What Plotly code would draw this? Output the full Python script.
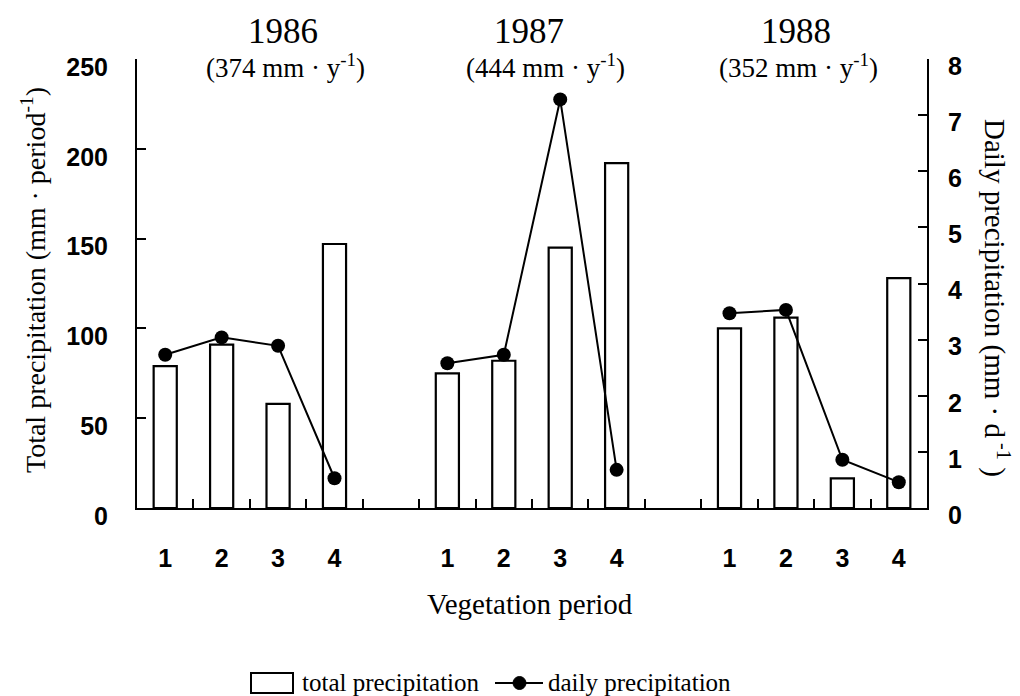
import plotly.graph_objects as go

# ---------------- data ----------------
years = ["1986", "1987", "1988"]
annual_mm = ["374", "444", "352"]
periods = ["1", "2", "3", "4"]

total_1986 = [79, 91, 58, 147]
total_1987 = [75, 82, 145, 192]
total_1988 = [100, 106, 16.5, 128]

daily_1986 = [2.73, 3.04, 2.89, 0.53]
daily_1987 = [2.58, 2.73, 7.28, 0.68]
daily_1988 = [3.47, 3.53, 0.86, 0.46]

totals = [total_1986, total_1987, total_1988]
dailies = [daily_1986, daily_1987, daily_1988]

# slot layout: 4 periods per year + one empty slot between years
GROUP_STEP = len(periods) + 1
bar_x, bar_y, line_x, line_y = [], [], [], []
for g, (tot, dly) in enumerate(zip(totals, dailies)):
    xs = [g * GROUP_STEP + i for i in range(len(periods))]
    bar_x += xs
    bar_y += tot
    line_x += xs + [None]
    line_y += dly + [None]
n_slots = GROUP_STEP * len(years) - 1

# ---------------- geometry helpers ----------------
W, H = 1020, 696
L, R, T, B = 137, 93, 59, 188
PW, PH = W - L - R, H - T - B


def px(xp):
    return (xp - L) / PW


def py(yp):
    return (H - B - yp) / PH


SERIF = "Liberation Serif"
SANS = "Liberation Sans"

fig = go.Figure()
fig.add_trace(go.Bar(
    x=bar_x, y=bar_y, width=0.41,
    marker=dict(color="white", line=dict(color="black", width=2.2)),
    name="total precipitation", showlegend=False,
))
fig.add_trace(go.Scatter(
    x=line_x, y=line_y, yaxis="y2", mode="lines+markers",
    line=dict(color="black", width=2),
    marker=dict(color="black", size=14),
    connectgaps=False, name="daily precipitation", showlegend=False,
))

tickfont = dict(family=SANS, size=25, color="black", weight="bold")

fig.update_layout(
    width=W, height=H,
    margin=dict(l=L, r=R, t=T, b=B),
    paper_bgcolor="white", plot_bgcolor="white",
    xaxis=dict(
        range=[-0.5, n_slots - 0.5],
        tickvals=bar_x, ticktext=periods * len(years),
        ticks="", ticklabelstandoff=27,
        tickfont=tickfont,
        showline=True, linecolor="black", linewidth=2,
        showgrid=False, zeroline=False,
        minor=dict(tickvals=[i + 0.5 for i in range(n_slots - 1)],
                   ticks="inside", ticklen=9, tickwidth=2, tickcolor="black",
                   showgrid=False),
    ),
    yaxis=dict(
        range=[0, 250], tickvals=[0, 50, 100, 150, 200, 250],
        ticks="inside", ticklen=9, tickwidth=2, tickcolor="black",
        ticklabelstandoff=22, ticklabelshift=8,
        tickfont=tickfont,
        showline=True, linecolor="black", linewidth=2,
        showgrid=False, zeroline=False,
    ),
    yaxis2=dict(
        range=[0, 8], tickvals=list(range(0, 9)),
        overlaying="y", side="right",
        ticks="inside", ticklen=9, tickwidth=2, tickcolor="black",
        ticklabelstandoff=14, ticklabelshift=7,
        tickfont=tickfont,
        showline=True, linecolor="black", linewidth=2,
        showgrid=False, zeroline=False,
    ),
    showlegend=False,
)

annotations = []
title_cx = [283, 529, 796]
sub_cx = [285, 545, 798]
for yr, mm, cx, scx in zip(years, annual_mm, title_cx, sub_cx):
    annotations.append(dict(
        text=yr, x=px(cx), y=py(31), xref="paper", yref="paper",
        showarrow=False, xanchor="center", yanchor="middle",
        font=dict(family=SERIF, size=35, color="black")))
    annotations.append(dict(
        text=f"({mm} mm · y<sup>-1</sup>)", x=px(scx), y=py(66),
        xref="paper", yref="paper",
        showarrow=False, xanchor="center", yanchor="middle",
        font=dict(family=SERIF, size=27, color="black")))

annotations.append(dict(
    text="Total precipitation (mm · period<sup>-1</sup>)",
    x=px(33), y=py(280), xref="paper", yref="paper", textangle=-90,
    showarrow=False, xanchor="center", yanchor="middle",
    font=dict(family=SERIF, size=28, color="black")))
annotations.append(dict(
    text="Daily precipitation (mm · d<sup> -1</sup> )",
    x=px(997), y=py(298), xref="paper", yref="paper", textangle=90,
    showarrow=False, xanchor="center", yanchor="middle",
    font=dict(family=SERIF, size=29, color="black")))
annotations.append(dict(
    text="Vegetation period",
    x=px(530), y=py(604), xref="paper", yref="paper",
    showarrow=False, xanchor="center", yanchor="middle",
    font=dict(family=SERIF, size=29, color="black")))

# manual legend
annotations.append(dict(
    text="total precipitation", x=px(300), y=py(682),
    xref="paper", yref="paper", showarrow=False,
    xanchor="left", yanchor="middle",
    font=dict(family=SERIF, size=25, color="black")))
annotations.append(dict(
    text="daily precipitation", x=px(546), y=py(682),
    xref="paper", yref="paper", showarrow=False,
    xanchor="left", yanchor="middle",
    font=dict(family=SERIF, size=25, color="black")))

shapes = [
    dict(type="rect", xref="paper", yref="paper",
         x0=px(251), x1=px(293), y0=py(693), y1=py(673),
         line=dict(color="black", width=2), fillcolor="white"),
    dict(type="line", xref="paper", yref="paper",
         x0=px(495), x1=px(543), y0=py(683), y1=py(683),
         line=dict(color="black", width=2)),
    dict(type="circle", xref="paper", yref="paper",
         x0=px(513), x1=px(526), y0=py(689.5), y1=py(676.5),
         line=dict(color="black", width=1), fillcolor="black"),
]

fig.update_layout(annotations=annotations, shapes=shapes)

fig.write_html(
    "out.html",
    config={"displayModeBar": False},
    post_script="document.body.style.margin='0px';document.body.style.overflow='hidden';",
)
